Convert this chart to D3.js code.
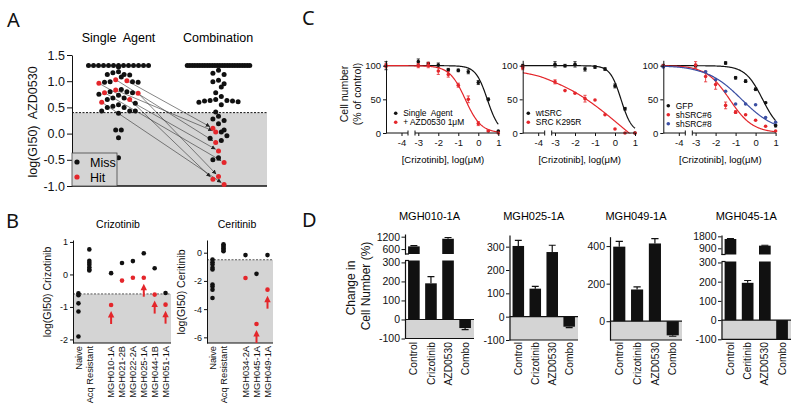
<!DOCTYPE html>
<html>
<head>
<meta charset="utf-8">
<script src="https://cdn.jsdelivr.net/npm/d3@7/dist/d3.min.js"></script>
<style>
  body { margin: 0; background: #fff; }
  svg { display: block; font-family: "Liberation Sans", Arial, sans-serif; }
</style>
</head>
<body>
<svg id="chart" width="800" height="410"></svg>
<script>
// ---------- Panel A : log(GI50) AZD0530, single agent vs combination ----------
const aCap = 1.3;
const aCutoff = 0.4;
const aTicks = [1.5, 1.0, 0.5, 0.0, -0.5, -1.0];
const aSingleMiss = [1.3, 1.3, 1.3, 1.3, 1.3, 1.3, 1.3, 1.3, 1.3, 1.3, 1.3, 1.3, 1.3,
  1.27, 1.18, 1.16, 1.13, 1.13, 1.12, 1.08, 0.99, 0.99, 0.98, 0.98, 0.84, 0.8, 0.8, 0.78,
  0.75, 0.73, 0.68, 0.68, 0.65, 0.58, 0.55, 0.52, 0.5, 0.5, 0.43, 0.43, 0.43, 0.39,
  0.07, 0.07, -0.08, -0.46];
const aSingleHit = [1.03, 0.96, 1.01, 0.83, 0.78, 0.77, 0.65, 0.6];
const aComboMiss = [1.3, 1.3, 1.3, 1.3, 1.3, 1.3, 1.3, 1.3, 1.3, 1.3, 1.3, 1.3, 1.3,
  1.3, 1.3, 1.3, 1.3, 1.3, 1.3, 1.3, 1.3, 1.3, 1.3, 1.3, 1.3, 1.3,
  1.21, 1.15, 1.13, 1.02, 0.99, 0.95, 0.89, 0.78, 0.71, 0.65, 0.63, 0.63, 0.62, 0.62,
  0.61, 0.6, 0.55, 0.41, 0.33, 0.28, 0.25, 0.19, 0.07, 0.03, -0.04, -0.09, -0.13, -0.46, -0.5];
const aComboHit = [0.1, 0.03, -0.17, -0.33, -0.55, -0.82, -0.87, -0.97];
// which single-agent hit goes to which combination hit
const aArrows = [[2, 0], [0, 2], [1, 3], [3, 1], [4, 4], [5, 5], [6, 6], [7, 7]];

// ---------- Panel B : log(GI50) of crizotinib / ceritinib ----------
const bCrizCats = ["Naive", "Acq Resistant", " ", "MGH010-1A", "MGH021-2B", "MGH022-2A", "MGH025-1A", "MGH044-1B", "MGH051-1A"];
const bCrizNaive = [-0.58, -0.64, -0.89, -1.14, -1.91];
const bCrizAcq = [0.77, 0.42, 0.36, 0.3, 0.22, 0.15, 0.12];
const bCrizPre = [0.04, 0.35, 0.41, 0.65, 0.19, -0.57];
const bCrizPost = [-0.94, -0.19, -0.1, -0.1, -0.62, -0.93];
const bCrizArrow = [true, false, false, true, true, true];
const bCrizTicks = [1, 0, -1, -2];
const bCrizCut = -0.6;

const bCerCats = ["Naive", "Acq Resistant", " ", "MGH034-2A", "MGH045-1A", "MGH049-1A"];
const bCerNaive = [-0.48, -0.67, -0.83, -1.07, -1.19, -2.26, -2.4, -2.62, -3.21];
const bCerAcq = [0.6, 0.5, 0.4, 0.3, 0.2, 0.1];
const bCerPre = [-0.17, -1.5, -0.17];
const bCerPost = [-1.79, -5.05, -2.62];
const bCerArrow = [false, true, true];
const bCerTicks = [0, -2, -4, -6];
const bCerCut = -0.5;

// ---------- Panel C : dose response curves ----------
const cDoses = [-4.75, -3, -2.5, -2, -1.5, -1, -0.5, 0, 0.5, 1];
const cTicks = [-4, -3, -2, -1, 0, 1];
const c1Single = [100, 106, 103, 101, 94, 93, 91, 75, 50, 3];
const c1SingleErr = [6, 4, 2, 3, 2, 2, 3, 3, 2, 0];
const c1Combo = [100, 100, 101, 92, 87, 71, 50, 14, 3, 0];
const c1ComboErr = [3, 3, 4, 5, 4, 3, 5, 3, 1, 0];
const c2Wt = [100, 102, 100, 102, 95, 98, 95, 70, 36, 0];
const c2WtErr = [2, 4, 2, 4, 3, 2, 2, 3, 2, 0];
const c2Mut = [97, 76, 63, 59, 51, 49, 27, 6, 0, 0];
const c2MutErr = [3, 3, 0, 0, 5, 0, 0, 0, 0, 0];
const c3Gfp = [100, 100, null, null, 104, 82, 77, 65, 45, 11];
const c3GfpErr = [2, 2, 0, 0, 2, 2, 2, 2, 1, 2];
const c3Sh6 = [100, 101, 84, 72, 41, 31, 27, 19, 10, 3];
const c3Sh6Err = [0, 5, 8, 7, 5, 2, 0, 0, 0, 0];
const c3Sh8 = [98, null, 91, 79, 62, 43, 43, 42, 23, 16];
const c3Sh8Err = [0, 0, 0, 0, 0, 0, 0, 0, 0, 0];
// fitted curve parameters: top, bottom, logEC50, hill slope
const c1Fits = [[100, 0, 0.45, 1.5], [100, 0, -0.65, 1.1]];
const c2Fits = [[100, 0, 0.3, 1.6], [100, -80, 0.3, 0.24]];
const c3Fits = [[100, 0, 0.35, 1.0], [100, 0, -1.3, 0.75], [100, 0, -0.7, 0.5]];
const c1Names = ["Single  Agent", "+ AZD0530 1\u03bcM"];
const c2Names = ["wtSRC", "SRC K295R"];
const c3Names = ["GFP", "shSRC#6", "shSRC#8"];

// ---------- Panel D : change in cell number ----------
const dTitles = ["MGH010-1A", "MGH025-1A", "MGH049-1A", "MGH045-1A"];
const dCats = [
  ["Control", "Crizotinib", "AZD0530", "Combo"],
  ["Control", "Crizotinib", "AZD0530", "Combo"],
  ["Control", "Crizotinib", "AZD0530", "Combo"],
  ["Control", "Ceritinib", "AZD0530", "Combo"]
];
const dVals = [[730, 190, 1100, -45], [303, 120, 277, -43], [397, 169, 414, -75], [1600, 194, 1100, -100]];
const dErrs = [[40, 35, 60, 8], [24, 10, 29, 4], [28, 14, 26, 5], [30, 12, 30, 0]];
const dLowTicks = [[-100, 0, 100, 200, 300], [-100, 0, 100, 200, 300], [0, 200, 400], [-100, 0, 100, 200, 300]];
const dUpTicks = [[600, 1200], null, null, [900, 1800]];

// ---------- layout ----------
const svg = d3.select("#chart");
const RED = "#e4262b", BLUE = "#3b4fa3", GRAY = "#d4d4d4", INK = "#111";
const plain = d => String(d);

function styleAxis(g, size) {
  g.attr("font-family", null).attr("font-size", size);
  g.selectAll("path, line").attr("stroke", INK);
  g.selectAll("text").attr("fill", INK);
  return g;
}
function letter(t, x, y) {
  svg.append("text").attr("x", x).attr("y", y)
    .attr("font-family", "'Noto Sans', 'Liberation Sans', sans-serif")
    .attr("font-size", 20).attr("fill", INK).text(t);
}
function vtext(t, x, y, size) {
  svg.append("text").attr("transform", `translate(${x},${y}) rotate(-90)`)
    .attr("text-anchor", "middle").attr("font-size", size).attr("fill", INK)
    .style("white-space", "pre").text(t);
}

letter("A", 7, 27);
letter("B", 6, 228);
letter("C", 302, 25);
letter("D", 302, 227);

// ===== Panel A =====
const aY = d3.scaleLinear().domain([-1, 1.5]).range([186, 55]);
const aL = 72, aR = 267;
const gA = svg.append("g");
gA.append("rect").attr("x", aL).attr("y", aY(aCutoff)).attr("width", aR - aL)
  .attr("height", aY(-1) - aY(aCutoff)).attr("fill", GRAY);
gA.append("line").attr("x1", aL).attr("x2", aR).attr("y1", aY(aCutoff)).attr("y2", aY(aCutoff))
  .attr("stroke", INK).attr("stroke-dasharray", "2,1.5");
gA.append("line").attr("x1", aL).attr("x2", aR).attr("y1", aY(-1)).attr("y2", aY(-1))
  .attr("stroke", INK).attr("stroke-width", 1.5);

// scatter-dot layout: points are binned into rows and spread sideways
function rows(miss, hit, cx, capGap) {
  const pts = miss.map(v => ({ v, hit: false })).concat(hit.map((v, i) => ({ v, hit: true, hi: i })));
  const cap = pts.filter(p => p.v >= aCap);
  cap.forEach((p, i) => { p.x = cx + (i - (cap.length - 1) / 2) * capGap; p.y = aY(p.v); });
  const bins = d3.group(pts.filter(p => p.v < aCap), p => Math.round(aY(p.v) / 9));
  bins.forEach(list => {
    list.sort((a, b) => b.v - a.v || a.hit - b.hit);
    const order = list.map((p, i) => i % 2 ? p : null).filter(Boolean).reverse()
      .concat(list.filter((p, i) => i % 2 === 0));
    order.forEach((p, i) => { p.x = cx + (i - (order.length - 1) / 2) * 5.6; p.y = aY(p.v); });
  });
  return pts;
}
const singlePts = rows(aSingleMiss, aSingleHit, 118.5, 5);
const comboPts = rows(aComboMiss, aComboHit, 218.5, 2.5);

svg.append("defs").append("marker").attr("id", "ah").attr("viewBox", "0 0 6 6")
  .attr("refX", 6).attr("refY", 3).attr("markerWidth", 4.5).attr("markerHeight", 4.5)
  .attr("markerUnits", "userSpaceOnUse").attr("orient", "auto")
  .append("path").attr("d", "M0,0L6,3L0,6Z").attr("fill", "#222");

aArrows.forEach(([i, j]) => {
  const s = singlePts.find(p => p.hit && p.hi === i);
  const t = comboPts.find(p => p.hit && p.hi === j);
  const len = Math.hypot(t.x - s.x, t.y - s.y), k = (len - 3.2) / len;
  gA.append("line").attr("x1", s.x).attr("y1", s.y)
    .attr("x2", s.x + (t.x - s.x) * k).attr("y2", s.y + (t.y - s.y) * k)
    .attr("stroke", "#333").attr("stroke-width", 0.6).attr("marker-end", "url(#ah)");
});
[singlePts, comboPts].forEach(pts => {
  gA.selectAll(null).data(pts.filter(p => !p.hit).concat(pts.filter(p => p.hit))).enter()
    .append("circle").attr("cx", d => d.x).attr("cy", d => d.y).attr("r", 2.5)
    .attr("fill", d => d.hit ? RED : INK);
});
styleAxis(gA.append("g").attr("transform", `translate(${aL},0)`)
  .call(d3.axisLeft(aY).tickValues(aTicks).tickFormat(d => d.toFixed(1)).tickSize(5).tickSizeOuter(0).tickPadding(2)), 12.5);
gA.append("text").attr("x", 118.5).attr("y", 42).attr("text-anchor", "middle").attr("font-size", 12.5)
  .style("white-space", "pre").text("Single  Agent");
gA.append("text").attr("x", 218).attr("y", 42).attr("text-anchor", "middle").attr("font-size", 12.5).text("Combination");
vtext("log(GI50)  AZD0530", 37, 122, 12.5);
// legend
gA.append("rect").attr("x", aL).attr("y", 153).attr("width", 45).attr("height", aY(-1) - 153)
  .attr("fill", GRAY).attr("stroke", "#444").attr("stroke-width", 0.8);
[["Miss", INK], ["Hit", RED]].forEach(([t, c], i) => {
  gA.append("circle").attr("cx", 77).attr("cy", 162 + i * 15).attr("r", 2.6).attr("fill", c);
  gA.append("text").attr("x", 90).attr("y", 166.5 + i * 15).attr("font-size", 12.5).text(t);
});

// ===== Panel B =====
function drawB(o) {
  const y = d3.scaleLinear().domain(o.domain).range([343, 240]);
  const x = d3.scalePoint().domain(o.cats).range([o.x0, o.x1]).padding(0.5);
  const g = svg.append("g");
  g.append("rect").attr("x", o.x0).attr("y", y(o.cut)).attr("width", o.x1 - o.x0)
    .attr("height", 343 - y(o.cut)).attr("fill", GRAY);
  g.append("line").attr("x1", o.x0).attr("x2", o.x1).attr("y1", y(o.cut)).attr("y2", y(o.cut))
    .attr("stroke", "#333").attr("stroke-dasharray", "2,1.5").attr("stroke-width", 0.8);
  g.append("line").attr("x1", o.x0).attr("x2", o.x1).attr("y1", 343).attr("y2", 343)
    .attr("stroke", INK).attr("stroke-width", 1.2);
  const dots = o.naive.map(v => [o.cats[0], v, INK])
    .concat(o.acq.map(v => [o.cats[1], v, INK]))
    .concat(o.pre.map((v, i) => [o.cats[3 + i], v, INK]))
    .concat(o.post.map((v, i) => [o.cats[3 + i], v, RED]));
  g.selectAll(null).data(dots).enter().append("circle")
    .attr("cx", d => x(d[0])).attr("cy", d => y(d[1])).attr("r", 2.3).attr("fill", d => d[2]);
  o.post.forEach((v, i) => {
    if (!o.arrow[i]) return;
    const cx = x(o.cats[3 + i]), cy = y(v);
    g.append("path").attr("d", `M${cx},${cy + 6}L${cx - 3.2},${cy + 12.5}L${cx + 3.2},${cy + 12.5}Z`).attr("fill", RED);
    g.append("line").attr("x1", cx).attr("x2", cx).attr("y1", cy + 12).attr("y2", cy + 19)
      .attr("stroke", RED).attr("stroke-width", 2);
  });
  styleAxis(g.append("g").attr("transform", `translate(${o.x0},0)`)
    .call(d3.axisLeft(y).tickValues(o.ticks).tickFormat(plain).tickSize(3).tickSizeOuter(0).tickPadding(2)), 9);
  g.selectAll(null).data(o.cats.filter(c => c.trim())).enter().append("text")
    .attr("transform", d => `translate(${x(d) + 3.3},346) rotate(-90)`)
    .attr("text-anchor", "end").attr("font-size", 9.3).attr("fill", INK).text(d => d);
  g.append("text").attr("x", o.titleX).attr("y", 228).attr("text-anchor", "middle")
    .attr("font-size", 10.5).text(o.title);
  vtext(o.label, o.x0 - 22, 292, 10.5);
}
drawB({ x0: 73, x1: 171, domain: [-2.11, 1.06], cats: bCrizCats, naive: bCrizNaive, acq: bCrizAcq,
  pre: bCrizPre, post: bCrizPost, arrow: bCrizArrow, ticks: bCrizTicks, cut: bCrizCut,
  title: "Crizotinib", titleX: 118, label: "log(GI50) Crizotinib" });
drawB({ x0: 207, x1: 273, domain: [-6.4, 0.9], cats: bCerCats, naive: bCerNaive, acq: bCerAcq,
  pre: bCerPre, post: bCerPost, arrow: bCerArrow, ticks: bCerTicks, cut: bCerCut,
  title: "Ceritinib", titleX: 237, label: "log(GI50) Ceritinib" });

// ===== Panel C =====
const hill = (f, x) => f[1] + (f[0] - f[1]) / (1 + Math.pow(10, f[3] * (x - f[2])));
const cSeries = [
  [{ v: c1Single, e: c1SingleErr, f: c1Fits[0], c: INK, n: c1Names[0] },
   { v: c1Combo, e: c1ComboErr, f: c1Fits[1], c: RED, n: c1Names[1] }],
  [{ v: c2Wt, e: c2WtErr, f: c2Fits[0], c: INK, n: c2Names[0] },
   { v: c2Mut, e: c2MutErr, f: c2Fits[1], c: RED, n: c2Names[1] }],
  [{ v: c3Gfp, e: c3GfpErr, f: c3Fits[0], c: INK, n: c3Names[0] },
   { v: c3Sh6, e: c3Sh6Err, f: c3Fits[1], c: RED, n: c3Names[1] },
   { v: c3Sh8, e: c3Sh8Err, f: c3Fits[2], c: BLUE, n: c3Names[2] }]
];
const cX0 = [386, 522.7, 663.3];
const cLegend = [[395.7, 115.5], [528.3, 115.5], [668.3, 108]];
function drawC(k) {
  const x0 = cX0[k];
  const x = d3.scaleLinear().domain([-4.75, -4, -3, 1]).range([x0, x0 + 15.5, x0 + 32.3, x0 + 112.3]);
  const y = d3.scaleLinear().domain([0, 108]).range([133, 60.3]);
  const g = svg.append("g");
  const clipId = "clipC" + k;
  g.append("clipPath").attr("id", clipId).append("rect")
    .attr("x", x0).attr("y", 50).attr("width", 120).attr("height", 83.5);
  const xs = d3.range(-4.75, 1.0001, 0.025);
  cSeries[k].forEach(s => {
    g.append("path").datum(xs)
      .attr("d", d3.line().x(d => x(d)).y(d => y(hill(s.f, d))))
      .attr("fill", "none").attr("stroke", s.c).attr("stroke-width", 1.2)
      .attr("clip-path", `url(#${clipId})`);
  });
  cSeries[k].forEach(s => {
    const pts = cDoses.map((d, i) => ({ d, v: s.v[i], e: s.e[i] })).filter(p => p.v !== null);
    pts.filter(p => p.e > 0).forEach(p => {
      const px = x(p.d);
      g.append("path")
        .attr("d", `M${px},${y(p.v - p.e)}V${y(p.v + p.e)}M${px - 1.6},${y(p.v + p.e)}H${px + 1.6}M${px - 1.6},${y(p.v - p.e)}H${px + 1.6}`)
        .attr("stroke", s.c).attr("stroke-width", 0.8).attr("fill", "none");
    });
    g.selectAll(null).data(pts).enter().append("circle")
      .attr("cx", p => x(p.d)).attr("cy", p => y(p.v)).attr("r", 1.8).attr("fill", s.c);
  });
  styleAxis(g.append("g").attr("transform", `translate(${x0},0)`)
    .call(d3.axisLeft(y).tickValues([0, 50, 100]).tickFormat(plain).tickSize(3).tickSizeOuter(0).tickPadding(2)), 9.5);
  const ax = styleAxis(g.append("g").attr("transform", "translate(0,133)")
    .call(d3.axisBottom(x).tickValues(cTicks).tickFormat(plain).tickSize(3).tickSizeOuter(0).tickPadding(3)), 9.5);
  ax.select(".domain").remove();
  const seg = [[x0, x0 + 22], [x0 + 29, x(1) + 0.5]];
  seg.forEach(([a, b]) => g.append("line").attr("x1", a).attr("x2", b).attr("y1", 133).attr("y2", 133)
    .attr("stroke", INK));
  [x0 + 22, x0 + 29].forEach(bx => g.append("line").attr("x1", bx).attr("x2", bx)
    .attr("y1", 130.5).attr("y2", 135.5).attr("stroke", INK));
  g.append("text").attr("x", x0 + 57).attr("y", 163).attr("text-anchor", "middle")
    .attr("font-size", 9.5).text("[Crizotinib], log(\u03bcM)");
  const [lx, ly] = cLegend[k];
  cSeries[k].forEach((s, i) => {
    g.append("circle").attr("cx", lx).attr("cy", ly - 2.3 + i * 9).attr("r", 1.8).attr("fill", s.c);
    g.append("text").attr("x", lx + 7.5).attr("y", ly + 0.6 + i * 9).attr("font-size", 8.4)
      .style("white-space", "pre").text(s.n);
  });
}
[0, 1, 2].forEach(drawC);
vtext("Cell number", 348, 94, 10.5);
vtext("(% of control)", 361, 94, 10.5);

// ===== Panel D =====
const dX = [[405, 474], [509.5, 578], [610, 682], [721.5, 791]];
const dLowDomain = [[-100, 310], [-100, 350], [-100, 450], [-100, 305]];
const dLowRange = [[338.5, 260.5], [340, 235], [340, 236.7], [339.3, 261.5]];
const dUpDomain = [[360, 1330], null, null, [435, 1900]];
const dUpRange = [[254, 234], null, null, [254.5, 235]];
function drawD(k) {
  const [x0, x1] = dX[k];
  const low = d3.scaleLinear().domain(dLowDomain[k]).range(dLowRange[k]);
  const up = dUpDomain[k] ? d3.scaleLinear().domain(dUpDomain[k]).range(dUpRange[k]) : null;
  const x = d3.scaleBand().domain(dCats[k]).range([x0, x1]).paddingInner(0.32).paddingOuter(0.18);
  const g = svg.append("g");
  const lowTop = dLowDomain[k][1];
  g.append("rect").attr("x", x0).attr("y", low(0)).attr("width", x1 - x0)
    .attr("height", low(-100) - low(0)).attr("fill", GRAY);
  dVals[k].forEach((v, i) => {
    const bx = x(dCats[k][i]), bw = x.bandwidth(), e = dErrs[k][i], cx = bx + bw / 2;
    if (v >= 0) {
      g.append("rect").attr("x", bx).attr("width", bw).attr("y", low(Math.min(v, lowTop)))
        .attr("height", low(0) - low(Math.min(v, lowTop))).attr("fill", INK);
      const s = (up && v > lowTop) ? up : low;
      if (s === up) {
        g.append("rect").attr("x", bx).attr("width", bw).attr("y", up(v))
          .attr("height", dUpRange[k][0] - up(v)).attr("fill", INK);
      }
      if (e > 0) g.append("path")
        .attr("d", `M${cx},${s(v)}V${s(v + e)}M${cx - bw * 0.3},${s(v + e)}H${cx + bw * 0.3}`)
        .attr("stroke", INK).attr("stroke-width", 1.2).attr("fill", "none");
    } else {
      g.append("rect").attr("x", bx).attr("width", bw).attr("y", low(0))
        .attr("height", low(v) - low(0)).attr("fill", INK);
      if (e > 0) g.append("path")
        .attr("d", `M${cx},${low(v)}V${low(v - e)}M${cx - bw * 0.3},${low(v - e)}H${cx + bw * 0.3}`)
        .attr("stroke", INK).attr("stroke-width", 1.2).attr("fill", "none");
    }
  });
  [0, -100].forEach(v => g.append("line").attr("x1", x0).attr("x2", x1).attr("y1", low(v)).attr("y2", low(v))
    .attr("stroke", INK).attr("stroke-width", 1.2));
  styleAxis(g.append("g").attr("transform", `translate(${x0},0)`)
    .call(d3.axisLeft(low).tickValues(dLowTicks[k]).tickFormat(plain).tickSize(3.5).tickSizeOuter(0).tickPadding(1.5)), 10.5)
    .select(".domain").attr("stroke-width", 1.2);
  if (up) {
    styleAxis(g.append("g").attr("transform", `translate(${x0},0)`)
      .call(d3.axisLeft(up).tickValues(dUpTicks[k]).tickFormat(plain).tickSize(3.5).tickSizeOuter(0).tickPadding(1.5)), 10.5)
      .select(".domain").attr("stroke-width", 1.2);
    [dUpRange[k][0], dLowRange[k][1]].forEach(by => g.append("line")
      .attr("x1", x0).attr("x2", x0 + 4).attr("y1", by).attr("y2", by).attr("stroke", INK).attr("stroke-width", 1.2));
  }
  g.selectAll(null).data(dCats[k]).enter().append("text")
    .attr("transform", d => `translate(${x(d) + x.bandwidth() / 2 + 3.6},342) rotate(-90)`)
    .attr("text-anchor", "end").attr("font-size", 10.3).attr("fill", INK).text(d => d);
  g.append("text").attr("x", (x0 + x1) / 2 - 10).attr("y", 220).attr("text-anchor", "middle")
    .attr("font-size", 11).text(dTitles[k]);
}
[0, 1, 2, 3].forEach(drawD);
vtext("Change in", 355, 288, 12);
vtext("Cell Number (%)", 370, 286, 12);
</script>
</body>
</html>
